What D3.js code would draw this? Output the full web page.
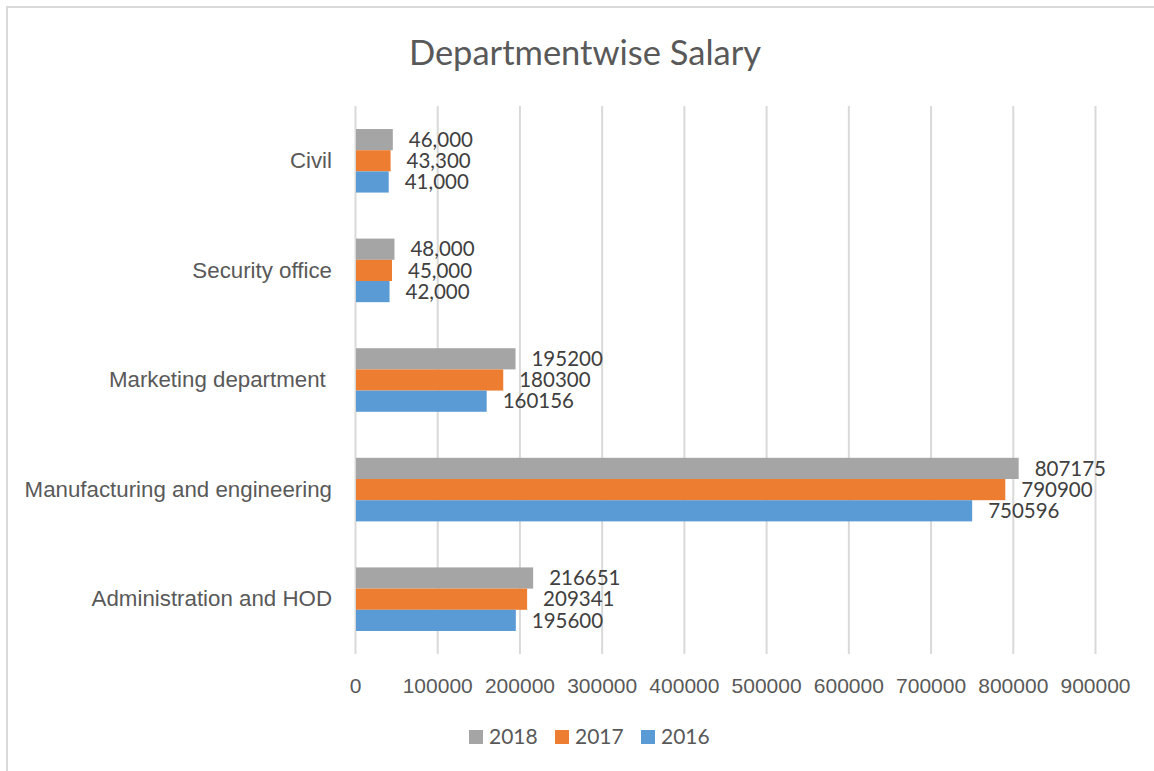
<!DOCTYPE html>
<html lang="en">
<head>
  <meta charset="UTF-8">
  <title>Departmentwise Salary</title>
  <script src="https://d3js.org/d3.v7.min.js"></script>
  <style>
    body { margin: 0; background: #fff; }
    svg { display: block; font-family: Lato, 'Open Sans', sans-serif; }
  </style>
</head>
<body>
  <svg width="1154" height="771"></svg>
  <script>
    // chart data
    const departments = ['Civil', 'Security office', 'Marketing department ', 'Manufacturing and engineering', 'Administration and HOD']
    const years = ['2018', '2017', '2016']
    const salary2018 = [46000, 48000, 195200, 807175, 216651]
    const salary2017 = [43300, 45000, 180300, 790900, 209341]
    const salary2016 = [41000, 42000, 160156, 750596, 195600]
    const withComma = [true, true, false, false, false]
    const xTicks = [0, 100000, 200000, 300000, 400000, 500000, 600000, 700000, 800000, 900000]
    const colors = ['#a5a5a5', '#ed7d31', '#5b9bd5']

    const series = [salary2018, salary2017, salary2016]
    const width = 1154
    const height = 771
    const margin = {top: 106, bottom: 117, left: 355, right: 59}
    const svg = d3.select('svg')

    // chart frame
    svg.append('path')
      .attr('d', `M7,${height} V7 H${width}`)
      .attr('fill', 'none')
      .attr('stroke', '#d9d9d9')
      .attr('stroke-width', 2)

    svg.append('text')
      .attr('x', 585)
      .attr('y', 65)
      .attr('text-anchor', 'middle')
      .attr('font-size', 34.5)
      .attr('fill', '#595959')
      .text('Departmentwise Salary')

    const xScale = d3.scaleLinear()
      .domain([0, 900000])
      .range([margin.left, width - margin.right])
    const yScale = d3.scaleBand()
      .domain(departments)
      .range([margin.top, height - margin.bottom])
      .paddingInner(0.42)
      .paddingOuter(0.21)
    const subScale = d3.scaleBand()
      .domain(years)
      .range([0, yScale.bandwidth()])

    // gridlines
    const xAxis = d3.axisBottom(xScale)
      .tickValues(xTicks)
      .tickSize(-(height - margin.bottom - margin.top))
      .tickPadding(24)
      .tickFormat(d3.format('d'))
    const gx = svg.append('g')
      .attr('transform', 'translate(' + [0, height - margin.bottom] + ')')
      .call(xAxis)
    gx.select('.domain').remove()
    gx.selectAll('.tick line').attr('stroke', '#d9d9d9').attr('stroke-width', 2)
    gx.selectAll('.tick text')
      .attr('font-size', 21)
      .attr('fill', '#595959')
      .attr('font-family', 'inherit')

    const yAxis = d3.axisLeft(yScale).tickSize(0).tickPadding(23)
    const gy = svg.append('g')
      .attr('transform', 'translate(' + [margin.left, 0] + ')')
      .call(yAxis)
    gy.select('.domain').remove()
    gy.selectAll('.tick text')
      .attr('font-size', 22.3)
      .attr('fill', '#595959')
      .attr('font-family', 'inherit')
      .style('white-space', 'pre')

    // bars and labels
    series.forEach((values, si) => {
      const g = svg.append('g')
      g.selectAll('rect')
        .data(values)
        .enter()
        .append('rect')
        .attr('x', xScale(0) + 1)
        .attr('y', (d, i) => yScale(departments[i]) + subScale(years[si]))
        .attr('width', d => xScale(d) - xScale(0) - 1)
        .attr('height', subScale.bandwidth())
        .attr('fill', colors[si])
      g.selectAll('text')
        .data(values)
        .enter()
        .append('text')
        .attr('x', d => xScale(d) + 16)
        .attr('y', (d, i) => yScale(departments[i]) + subScale(years[si]) + subScale.bandwidth() / 2)
        .attr('dy', '0.35em')
        .attr('font-size', 20.5)
        .attr('fill', '#404040')
        .text((d, i) => withComma[i] ? d3.format(',')(d) : String(d))
    })

    // legend
    const legend = svg.append('g')
    const legendX = [469, 555, 641]
    years.forEach((y, i) => {
      legend.append('rect')
        .attr('x', legendX[i])
        .attr('y', 730)
        .attr('width', 14)
        .attr('height', 14)
        .attr('fill', colors[i])
      legend.append('text')
        .attr('x', legendX[i] + 20)
        .attr('y', 737)
        .attr('dy', '0.35em')
        .attr('font-size', 21)
        .attr('fill', '#595959')
        .text(y)
    })
  </script>
</body>
</html>
